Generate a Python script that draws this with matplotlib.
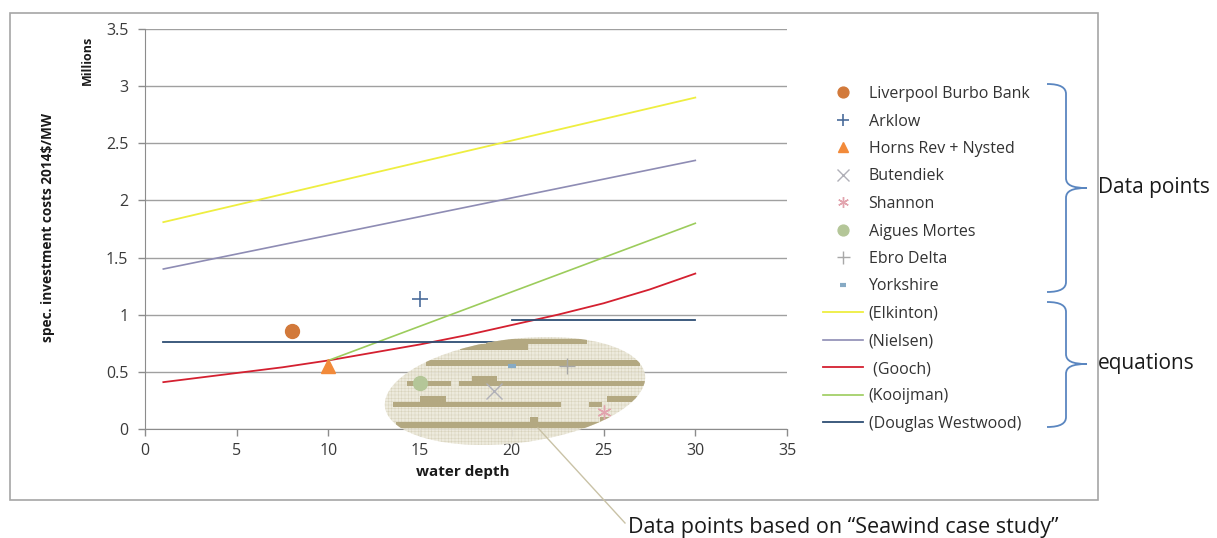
import numpy as np
import matplotlib.pyplot as plt
import matplotlib.transforms as mtransforms
from matplotlib.patches import Ellipse, Rectangle, PathPatch
from matplotlib.path import Path
from matplotlib.lines import Line2D

# ---- data (water depth in m, spec. investment costs in M$/MW) ----
site_names = ["Liverpool Burbo Bank", "Arklow", "Horns Rev + Nysted", "Butendiek",
              "Shannon", "Aigues Mortes", "Ebro Delta", "Yorkshire"]
site_depth = [8, 15, 10, 19, 25, 15, 23, 20]
site_cost = [0.86, 1.14, 0.55, 0.33, 0.15, 0.40, 0.55, 0.55]

elkinton_x = [1, 30]
elkinton_y = [1.81, 2.90]
nielsen_x = [1, 30]
nielsen_y = [1.40, 2.35]
gooch_x = [1, 2.5, 5, 7.5, 10, 12.5, 15, 17.5, 20, 22.5, 25, 27.5, 30]
gooch_y = [0.41, 0.44, 0.49, 0.54, 0.60, 0.67, 0.74, 0.82, 0.91, 1.00, 1.10, 1.22, 1.36]
kooijman_x = [10, 30]
kooijman_y = [0.60, 1.80]
dw_x = [1, 20, np.nan, 20, 30]
dw_y = [0.76, 0.76, np.nan, 0.95, 0.95]

x_ticks = [0, 5, 10, 15, 20, 25, 30, 35]
y_ticks = [0, 0.5, 1, 1.5, 2, 2.5, 3, 3.5]

# ---- styles ----
FONT = ["Open Sans", "DejaVu Sans"]
plt.rcParams["font.family"] = FONT
plt.rcParams["hatch.linewidth"] = 0.35

site_marker = ["o", "+", "^", "x", (6, 2, 0), "o", "+", "_"]
site_color = ["#d2793a", "#4a6c9b", "#f28a3a", "#b0b0b8", "#e2a4ae", "#b4c698", "#a8a8a8", "#86aac4"]
site_size = [10, 11, 10, 11, 10, 10, 12, 6]
site_mew = [1, 1.2, 1, 1, 1, 1, 1, 3]

W, H = 1217, 538
fig = plt.figure(figsize=(W / 100, H / 100), dpi=100)
# pixel coords of the picture, y pointing down
pix = mtransforms.Affine2D().scale(1, -1).translate(0, H).scale(1 / 100) + fig.dpi_scale_trans

ax = fig.add_axes([145 / W, 1 - 429 / H, 642 / W, 400 / H])

ax.plot(elkinton_x, elkinton_y, color="#eeee40", lw=1.3, label="(Elkinton)")
ax.plot(nielsen_x, nielsen_y, color="#8e8cb4", lw=1.2, label="(Nielsen)")
ax.plot(gooch_x, gooch_y, color="#d42030", lw=1.3, label=" (Gooch)")
ax.plot(kooijman_x, kooijman_y, color="#9ccc5c", lw=1.2, label="(Kooijman)")
ax.plot(dw_x, dw_y, color="#2e4e74", lw=1.3, label="(Douglas Westwood)")

for name, x, y, m, c, s, mew in zip(site_names, site_depth, site_cost, site_marker,
                                     site_color, site_size, site_mew):
    ax.plot([x], [y], linestyle="none", marker=m, color=c, markersize=s,
            markeredgewidth=mew, label=name, zorder=4)

ax.set_xlim(0, 35)
ax.set_ylim(0, 3.5)
ax.set_xticks(x_ticks)
ax.set_yticks(y_ticks)
ax.set_yticklabels([f"{v:g}" for v in y_ticks])
ax.tick_params(axis="both", colors="#8c8c8c", labelcolor="#3a3a3a", labelsize=11.5,
               length=5, width=1, direction="out")
ax.tick_params(axis="x", pad=5)
ax.tick_params(axis="y", pad=7)
ax.grid(axis="y", color="#a0a0a0", lw=1)
ax.set_axisbelow(True)
for sp in ["top", "right"]:
    ax.spines[sp].set_visible(False)
for sp in ["left", "bottom"]:
    ax.spines[sp].set_color("#8c8c8c")

fig.text(463 / W, 1 - 472 / H, "water depth", fontsize=11, fontweight="bold",
         ha="center", va="center", color="#1a1a1a")
fig.text(48 / W, 1 - 227 / H, "spec. investment costs 2014$/MW", fontsize=9.8,
         fontweight="bold", rotation=90, ha="center", va="center", color="#1a1a1a")
fig.text(87 / W, 1 - 60 / H, "Millions", fontsize=9, fontweight="bold", rotation=90,
         ha="center", va="center", color="#1a1a1a")

# chart area border
fig.add_artist(Rectangle((10, 13), 1088, 487, transform=pix, fill=False,
                         edgecolor="#a6a6a6", lw=1.2))

# shaded "Seawind case study" ellipse
ell = Ellipse((515, 391), 262, 104, angle=-7, transform=pix, facecolor="#ebe8da",
              edgecolor="#d6d0b8", lw=0, hatch="+++++", alpha=0.9, zorder=3, clip_on=False)
ax.add_patch(ell)
stripes = [(0.740, 0.785, 18.6, 24.1), (0.695, 0.740, 17.2, 20.9), (0.555, 0.600, 15.3, 27.0),
           (0.420, 0.468, 17.8, 19.2), (0.372, 0.420, 14.3, 16.7), (0.372, 0.420, 17.1, 27.4),
           (0.240, 0.285, 15.0, 16.4), (0.240, 0.285, 25.2, 27.4), (0.195, 0.240, 13.5, 22.7),
           (0.195, 0.240, 24.2, 24.9), (0.065, 0.108, 21.0, 21.4), (0.065, 0.108, 24.8, 25.7),
           (0.012, 0.057, 13.7, 24.9)]
for y0, y1, x0, x1 in stripes:
    r = Rectangle((x0, y0), x1 - x0, y1 - y0, facecolor="#b3a881", lw=0, zorder=3.2)
    ax.add_patch(r)
    r.set_clip_path(ell)

fig.add_artist(Line2D([538, 625], [428, 523], transform=pix, color="#c9c2a6", lw=1))
fig.text(628 / W, 1 - 527 / H, "Data points based on \u201cSeawind case study\u201d",
         fontsize=15.5, ha="left", va="center", color="#1a1a1a")

# legend
handles, labels = ax.get_legend_handles_labels()
order = list(range(5, 13)) + list(range(0, 5))
fig.legend([handles[i] for i in order], [labels[i] for i in order],
           loc="upper left", bbox_to_anchor=(823, 86), bbox_transform=pix,
           frameon=False, fontsize=11.5, handlelength=2.5, handletextpad=0.35,
           labelspacing=0.72, borderpad=0, borderaxespad=0, markerscale=0.78,
           labelcolor="#333333")


def brace(x0, x1, x2, yt, ym, yb, r=10):
    verts = [(x0, yt), (x1 - 5, yt), (x1, yt + 4), (x1, yt + r),
             (x1, ym - r),
             (x1, ym - 3), (x1 + 6, ym), (x2, ym),
             (x1 + 6, ym), (x1, ym + 3), (x1, ym + r),
             (x1, yb - r),
             (x1, yb - 4), (x1 - 5, yb), (x0, yb)]
    codes = [Path.MOVETO] + [Path.CURVE4] * 3 + [Path.LINETO] + [Path.CURVE4] * 6 + \
            [Path.LINETO] + [Path.CURVE4] * 3
    return PathPatch(Path(verts, codes), transform=pix, fill=False,
                     edgecolor="#5a86c0", lw=1.3)


fig.add_artist(brace(1047, 1066, 1087, 84, 188, 292))
fig.add_artist(brace(1047, 1066, 1087, 302, 364, 427))
fig.text(1098 / W, 1 - 188 / H, "Data points", fontsize=15, ha="left", va="center",
         color="#1a1a1a")
fig.text(1098 / W, 1 - 364 / H, "equations", fontsize=15, ha="left", va="center",
         color="#1a1a1a")

fig.savefig("out.png", dpi=100)
